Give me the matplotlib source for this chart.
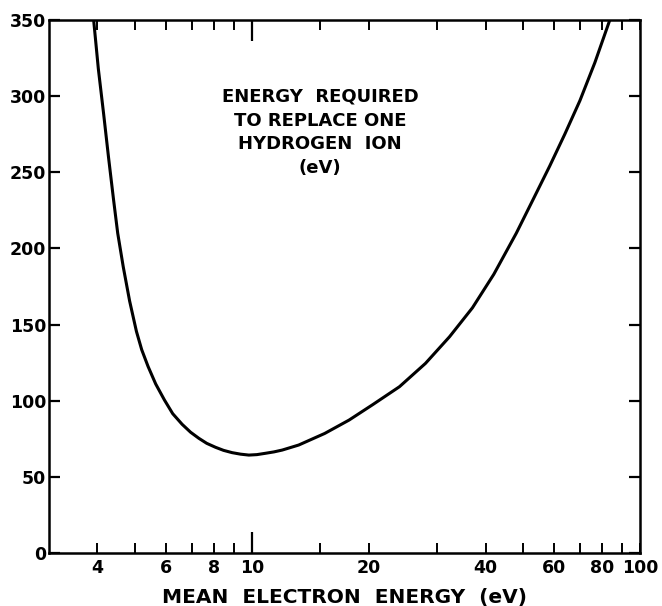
import matplotlib
matplotlib.use("Agg")
import matplotlib.pyplot as plt
from matplotlib.ticker import FixedLocator, FuncFormatter

# Data
electron_energy = [3.91, 4.02, 4.15, 4.27, 4.40, 4.51, 4.66, 4.84, 5.04, 5.20, 5.40,
                   5.65, 5.95, 6.25, 6.61, 6.95, 7.30, 7.65, 8.06, 8.45, 8.89,
                   9.35, 9.82, 10.3, 10.85, 11.4, 11.97, 13.2, 15.4, 17.8, 20.5,
                   24.0, 28.0, 32.3, 37.0, 42.0, 48.0, 53.0, 58.5, 64.0, 70.0,
                   76.5, 83.6]
energy_per_ion = [350, 318, 288, 260, 232, 210, 188, 165.5, 145.5, 133.5, 122.5,
                  111, 100.5, 91.5, 84.5, 79.3, 75.3, 72, 69.4, 67.4, 65.9,
                  64.9, 64.3, 64.6, 65.5, 66.4, 67.6, 70.9, 78.5, 87.3, 97.5,
                  109.2, 124.5, 142, 161, 183, 210, 232, 254, 275, 297,
                  322, 350]

x_minor_ticks = [4, 5, 6, 7, 8, 9, 15, 20, 30, 40, 50, 60, 70, 80, 90, 100]
x_major_ticks = [10]
x_labeled = [4, 6, 8, 10, 20, 40, 60, 80, 100]
y_ticks = [0, 50, 100, 150, 200, 250, 300, 350]

plt.rcParams['font.family'] = ['DejaVu Sans']
plt.rcParams['font.weight'] = 'bold'

fig = plt.figure(figsize=(6.62, 6.06), dpi=100)
ax = fig.add_axes([49 / 662, 53 / 606, 591 / 662, 533 / 606])

ax.plot(electron_energy, energy_per_ion, color='black', lw=2.2,
        solid_capstyle='round', solid_joinstyle='round')

ax.set_xscale('log')
ax.set_xlim(3, 100)
ax.set_ylim(0, 350)

ax.xaxis.set_major_locator(FixedLocator(x_major_ticks))
ax.xaxis.set_minor_locator(FixedLocator(x_minor_ticks))
fmt = FuncFormatter(lambda v, p: (f"{int(round(v))}" if int(round(v)) in x_labeled else ""))
ax.xaxis.set_major_formatter(fmt)
ax.xaxis.set_minor_formatter(fmt)

ax.set_yticks(y_ticks)
ax.set_yticklabels([str(v) for v in y_ticks])

ax.tick_params(axis='x', which='major', direction='in', length=15, width=1.6,
               top=True, labelsize=12.5, pad=4.5)
ax.tick_params(axis='x', which='minor', direction='in', length=7, width=1.4,
               top=True, labelsize=12.5, pad=4.5)
ax.tick_params(axis='y', which='major', direction='in', length=8, width=1.6,
               right=True, labelsize=12.5, pad=2)

for s in ax.spines.values():
    s.set_linewidth(1.8)

for lab in ax.get_xticklabels(which='both') + ax.get_yticklabels():
    lab.set_fontweight('bold')

fig.text(344 / 662, 3 / 606, "MEAN  ELECTRON  ENERGY  (eV)", ha='center',
         va='baseline', fontsize=14.5, fontweight='bold')

ax.text(0.459, 0.873, "ENERGY  REQUIRED\nTO REPLACE ONE\nHYDROGEN  ION\n(eV)",
        transform=ax.transAxes, ha='center', va='top', fontsize=13,
        fontweight='bold', linespacing=1.42)

fig.savefig("out.png", dpi=100)
